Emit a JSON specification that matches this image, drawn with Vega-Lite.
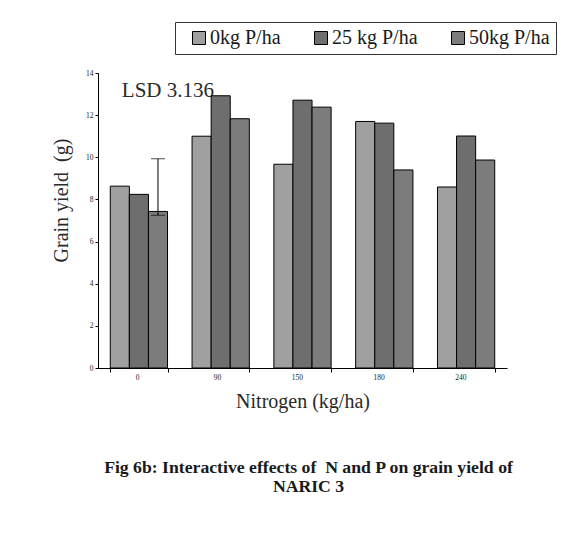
{
  "$schema": "https://vega.github.io/schema/vega-lite/v6.json",
  "width": 409,
  "height": 295,
  "autosize": "none",
  "padding": {"left": 98, "top": 73, "right": 54, "bottom": 186},
  "background": "white",
  "config": {
    "font": "Liberation Serif",
    "view": {"stroke": null},
    "axis": {"grid": false, "domainColor": "black", "tickColor": "black", "labelColor": "#222", "titleColor": "#2a2a2a", "titleFont": "Liberation Serif", "titleFontWeight": "normal", "labelFont": "Liberation Serif"}
  },
  "title": {
    "text": ["Fig 6b: Interactive effects of\u00a0 N and P on grain yield of", "NARIC 3"],
    "orient": "bottom",
    "anchor": "middle",
    "font": "Liberation Serif",
    "fontSize": 17.7,
    "fontWeight": "bold",
    "color": "#1a1a1a",
    "lineHeight": 19,
    "offset": 47,
    "dx": 6
  },
  "datasets": {
    "bars": [
      {"N": "0", "P": "0kg P/ha", "yield": 8.63},
      {"N": "0", "P": "25 kg P/ha", "yield": 8.24},
      {"N": "0", "P": "50kg P/ha", "yield": 7.43},
      {"N": "90", "P": "0kg P/ha", "yield": 11.0},
      {"N": "90", "P": "25 kg P/ha", "yield": 12.92},
      {"N": "90", "P": "50kg P/ha", "yield": 11.83},
      {"N": "150", "P": "0kg P/ha", "yield": 9.67},
      {"N": "150", "P": "25 kg P/ha", "yield": 12.71},
      {"N": "150", "P": "50kg P/ha", "yield": 12.38},
      {"N": "180", "P": "0kg P/ha", "yield": 11.7},
      {"N": "180", "P": "25 kg P/ha", "yield": 11.62},
      {"N": "180", "P": "50kg P/ha", "yield": 9.4},
      {"N": "240", "P": "0kg P/ha", "yield": 8.59},
      {"N": "240", "P": "25 kg P/ha", "yield": 11.01},
      {"N": "240", "P": "50kg P/ha", "yield": 9.87}
    ],
    "lsd": [
      {"N": "0", "P": "50kg P/ha", "low": 7.25, "high": 9.93}
    ],
    "note": [
      {"N": "0", "P": "0kg P/ha", "y": 12.85, "label": "LSD 3.136"}
    ]
  },
  "layer": [
    {
      "data": {"name": "note"},
      "mark": {"type": "text", "align": "left", "baseline": "alphabetic", "fontSize": 21, "font": "Liberation Serif", "color": "#2a2a2a", "dx": 2},
      "encoding": {
        "x": {"field": "N", "type": "nominal", "sort": ["0", "90", "150", "180", "240"]},
        "xOffset": {"field": "P", "type": "nominal", "sort": ["0kg P/ha", "25 kg P/ha", "50kg P/ha"]},
        "y": {"field": "y", "type": "quantitative"},
        "text": {"field": "label"}
      }
    },
    {
      "data": {"name": "bars"},
      "mark": {"type": "bar", "stroke": "black", "strokeWidth": 1},
      "encoding": {
        "x": {
          "field": "N", "type": "nominal", "sort": ["0", "90", "150", "180", "240"],
          "scale": {"paddingInner": 0.3, "paddingOuter": 0.15},
          "axis": {"title": "Nitrogen (kg/ha)", "titleFontSize": 20, "titlePadding": 11, "labelFontSize": 7.5, "labelAngle": 0, "labelPadding": 5, "tickBand": "extent", "tickSize": 4, "domainWidth": 1}
        },
        "xOffset": {"field": "P", "type": "nominal", "sort": ["0kg P/ha", "25 kg P/ha", "50kg P/ha"], "scale": {"paddingInner": 0, "paddingOuter": 0}},
        "y": {
          "field": "yield", "type": "quantitative",
          "scale": {"domain": [0, 14], "nice": false},
          "axis": {"title": "Grain yield\u00a0 (g)", "titleFontSize": 20, "values": [0, 2, 4, 6, 8, 10, 12, 14], "labelFontSize": 7.5, "tickSize": 3, "labelPadding": 2, "titleX": -31, "titleY": 127, "titleBaseline": "alphabetic", "titleAngle": -90, "titleAlign": "center"}
        },
        "fill": {
          "field": "P", "type": "nominal", "sort": ["0kg P/ha", "25 kg P/ha", "50kg P/ha"],
          "scale": {"range": ["#a0a0a0", "#6e6e6e", "#7c7c7c"]},
          "legend": {
            "title": null, "orient": "none", "direction": "horizontal",
            "legendX": 77, "legendY": -51,
            "strokeColor": "#333", "padding": 6, "columnPadding": 22,
            "symbolType": "square", "symbolSize": 169, "symbolStrokeColor": "black", "symbolStrokeWidth": 1,
            "labelFont": "Liberation Serif", "labelFontSize": 20, "labelColor": "#1a1a1a", "labelOffset": 1, "labelLimit": 200,
            "symbolOffset": 8
          }
        }
      }
    },
    {
      "data": {"name": "lsd"},
      "mark": {"type": "rule", "color": "black", "strokeWidth": 1},
      "encoding": {
        "x": {"field": "N", "type": "nominal", "sort": ["0", "90", "150", "180", "240"]},
        "xOffset": {"field": "P", "type": "nominal", "sort": ["0kg P/ha", "25 kg P/ha", "50kg P/ha"]},
        "y": {"field": "low", "type": "quantitative"},
        "y2": {"field": "high"}
      }
    },
    {
      "data": {"name": "lsd"},
      "mark": {"type": "tick", "color": "black", "thickness": 1, "size": 14},
      "encoding": {
        "x": {"field": "N", "type": "nominal", "sort": ["0", "90", "150", "180", "240"]},
        "xOffset": {"field": "P", "type": "nominal", "sort": ["0kg P/ha", "25 kg P/ha", "50kg P/ha"]},
        "y": {"field": "low", "type": "quantitative"}
      }
    },
    {
      "data": {"name": "lsd"},
      "mark": {"type": "tick", "color": "black", "thickness": 1, "size": 14},
      "encoding": {
        "x": {"field": "N", "type": "nominal", "sort": ["0", "90", "150", "180", "240"]},
        "xOffset": {"field": "P", "type": "nominal", "sort": ["0kg P/ha", "25 kg P/ha", "50kg P/ha"]},
        "y": {"field": "high", "type": "quantitative"}
      }
    }
  ]
}
